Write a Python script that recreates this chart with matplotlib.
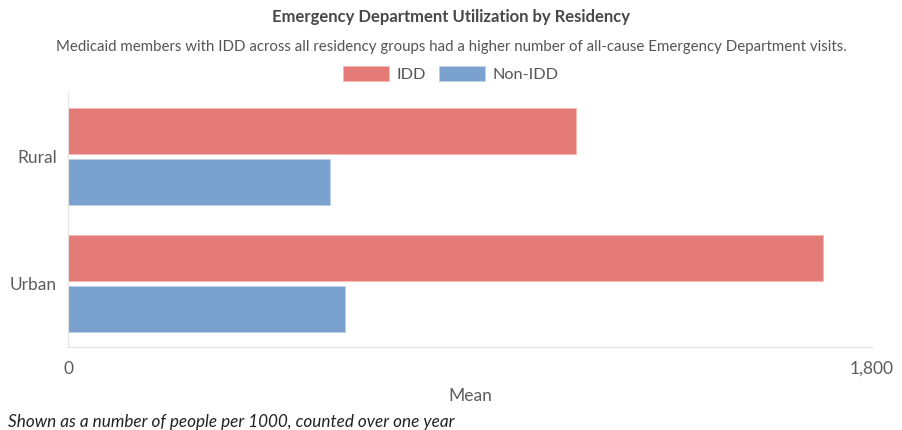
import matplotlib.pyplot as plt
import numpy as np

# ── Data ──────────────────────────────────────────────────────────────────────
categories = ["Rural", "Urban"]
idd = [1137, 1690]
non_idd = [587, 620]
series_names = ["IDD", "Non-IDD"]
colors = ["#E57B77", "#7BA2CE"]

plt.rcParams["font.family"] = ["Lato", "DejaVu Sans"]

fig = plt.figure(figsize=(9.02, 4.30), dpi=100)
ax = fig.add_axes([68 / 902, 1 - 347 / 430, 804 / 902, 254 / 430])

y = np.arange(len(categories))
h = 0.362
off = 0.2
ax.barh(y - off, idd, height=h, color=colors[0], edgecolor="#F3B9B6", linewidth=0.6,
        label=series_names[0])
ax.barh(y + off, non_idd, height=h, color=colors[1], edgecolor="#BCD0E6", linewidth=0.6,
        label=series_names[1])

ax.set_xlim(0, 1800)
ax.set_ylim(len(categories) - 0.5, -0.5)
ax.set_yticks(y)
ax.set_yticklabels(categories)
ax.set_xticks([0, 1800])
ax.set_xticklabels(["0", "1,800"])
ax.tick_params(length=0, labelsize=12.5, colors="#5c5c5c")
ax.tick_params(axis="x", pad=10)
ax.tick_params(axis="y", pad=8)

for side in ["top", "right"]:
    ax.spines[side].set_visible(False)
ax.spines["left"].set_color("#E3E3E3")
ax.spines["bottom"].set_color("#E3E3E3")

ax.set_xlabel("Mean", fontsize=12.5, color="#5c5c5c", labelpad=8)

fig.text(0.5, 1 - 17 / 430, "Emergency Department Utilization by Residency",
         ha="center", va="center", fontsize=12, fontweight="bold", color="#484848")
fig.text(0.5, 1 - 47 / 430,
         "Medicaid members with IDD across all residency groups had a higher number "
         "of all-cause Emergency Department visits.",
         ha="center", va="center", fontsize=10.8, color="#555555")

fig.legend(loc="center", bbox_to_anchor=(0.5, 1 - 74 / 430), ncol=2, frameon=False,
           fontsize=11.7, handlelength=2.8, handleheight=1.1, handletextpad=0.5,
           columnspacing=0.8, labelcolor="#555555")

fig.text(8 / 902, 1 - 422 / 430, "Shown as a number of people per 1000, counted over one year",
         ha="left", va="center", fontsize=12.3, style="italic", color="#222222")

fig.savefig("out.png", dpi=100)
